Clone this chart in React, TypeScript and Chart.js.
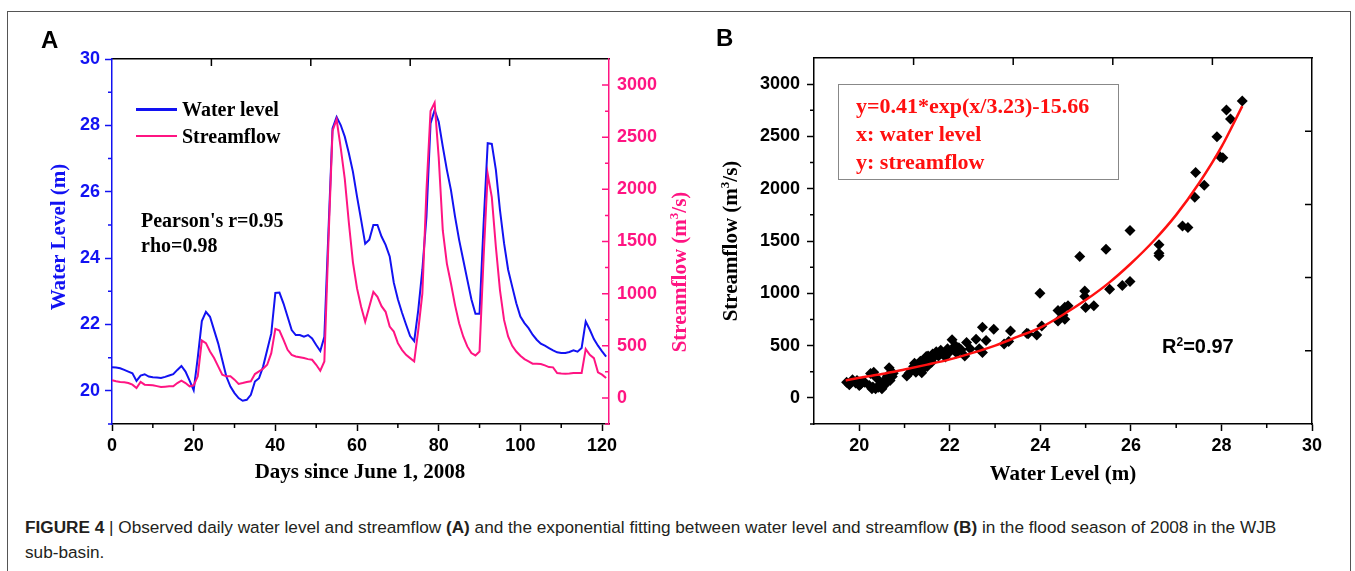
import React, { useEffect, useRef } from "react";
import { Chart, registerables } from "chart.js";

Chart.register(...registerables);

// ---------- Panel A data (daily, day index = position) ----------
const waterLevel = [
  20.71, 20.7, 20.68, 20.63, 20.58, 20.53, 20.3, 20.46, 20.5, 20.43,
  20.41, 20.4, 20.39, 20.42, 20.46, 20.5, 20.63, 20.75, 20.58, 20.31,
  20.02, 21.0, 22.1, 22.38, 22.23, 21.83, 21.43, 20.93, 20.43, 20.13,
  19.93, 19.78, 19.7, 19.73, 19.88, 20.28, 20.38, 20.73, 21.23, 21.73,
  22.95, 22.96, 22.63, 22.23, 21.83, 21.68, 21.68, 21.63, 21.68, 21.58,
  21.38, 21.2, 21.63, 24.8, 27.91, 28.25, 28.01, 27.66, 27.16, 26.6,
  25.85, 25.15, 24.43, 24.55, 25.0, 25.0, 24.65, 24.4, 24.05, 23.26,
  22.76, 22.36, 22.0, 21.65, 21.5, 22.44, 23.65, 25.25, 28.06, 28.46,
  28.11, 27.36, 26.66, 26.05, 25.25, 24.55, 23.95, 23.35, 22.76, 22.32,
  22.32, 25.05, 27.46, 27.44, 26.66, 25.45, 24.45, 23.65, 23.14, 22.64,
  22.24, 22.04, 21.89, 21.69, 21.54, 21.42, 21.36, 21.29, 21.22, 21.16,
  21.14, 21.14, 21.17, 21.22, 21.18, 21.29, 22.09, 21.84, 21.56, 21.36,
  21.19, 21.03,
];
const streamflow = [
  169, 160, 153, 150, 143, 127, 95, 153, 127, 124,
  121, 113, 105, 108, 111, 111, 143, 165, 143, 111,
  121, 207, 550, 525, 445, 382, 302, 223, 207, 207,
  175, 134, 143, 153, 159, 229, 254, 280, 318, 429,
  662, 646, 557, 461, 413, 398, 391, 382, 372, 366,
  318, 261, 350, 1500, 2560, 2670, 2400, 2100, 1680, 1300,
  1050, 874, 731, 874, 1017, 970, 880, 826, 684, 636,
  525, 461, 413, 382, 350, 652, 1002, 1988, 2751, 2830,
  2306, 1606, 1288, 1097, 890, 716, 589, 494, 430, 407,
  445, 1352, 2147, 1925, 1447, 1034, 748, 589, 500, 445,
  404, 372, 350, 328, 328, 325, 312, 296, 293, 239,
  235, 232, 235, 239, 239, 239, 468, 413, 382, 245,
  223, 191,
];
const dayTicks = [0, 20, 40, 60, 80, 100, 120];
const dayMinorTicks = [10, 30, 50, 70, 90, 110];
const levelTicks = [20, 22, 24, 26, 28, 30];
const levelMinorTicks = [19, 21, 23, 25, 27, 29];
const flowTicks = [0, 500, 1000, 1500, 2000, 2500, 3000];
const flowMinorTicks = [-250, 250, 750, 1250, 1750, 2250, 2750];
const mirrorDivisions = [1, 2, 3, 4];

// ---------- Panel B data ----------
const scatterLevel = [
  19.72, 19.78, 19.85, 19.92, 20.0, 20.08, 20.03, 19.95, 19.8, 20.12,
  20.25, 20.32, 20.38, 20.22, 20.28, 20.36, 20.42, 20.47, 20.5, 20.55,
  20.57, 20.62, 20.66, 20.7, 20.6, 20.68, 20.73, 20.45, 20.3, 20.75,
  21.05, 21.1, 21.15, 21.2, 21.22, 21.28, 21.3, 21.35, 21.38, 21.42,
  21.45, 21.5, 21.52, 21.58, 21.62, 21.65, 21.7, 21.75, 21.8, 21.85,
  21.9, 21.95, 22.0, 22.05, 22.08, 22.12, 22.15, 22.2, 22.25, 22.33,
  22.37, 22.45, 22.58, 22.65, 22.72, 22.72, 22.8, 22.97, 23.2, 23.3,
  23.34, 23.7, 23.73, 23.92, 24.03, 23.99, 24.39, 24.54, 24.61, 24.39,
  24.5, 24.54, 24.87, 24.98, 24.98, 25.0, 25.18, 25.45, 25.53, 25.81,
  25.98, 25.98, 26.62, 26.62, 26.62, 27.14, 27.26, 27.41, 27.62, 27.43,
  27.97, 28.03, 27.9, 28.2, 28.11, 28.46, 21.25, 21.4, 21.6, 21.48,
];
const scatterFlow = [
  150, 125, 172, 143, 118, 160, 130, 165, 140, 150,
  232, 245, 190, 118, 88, 86, 102, 134, 88, 118,
  172, 207, 288, 240, 150, 165, 205, 120, 105, 236,
  210, 235, 260, 300, 330, 320, 280, 350, 240, 330,
  370, 300, 400, 360, 420, 390, 440, 400, 455, 425,
  390, 470, 440, 555, 470, 500, 430, 480, 460, 400,
  530, 470, 560, 470, 676, 433, 548, 657, 516, 538,
  640, 618, 612, 602, 688, 1001, 835, 867, 882, 736,
  793, 752, 1351, 1023, 969, 863, 882, 1422, 1039, 1074,
  1112, 1600, 1463, 1383, 1358, 1644, 1628, 1919, 2033, 2154,
  2305, 2297, 2498, 2667, 2753, 2839, 245, 270, 340, 395,
];
const fitLevel = [19.7, 20, 20.5, 21, 21.5, 22, 22.5, 23, 23.5, 24, 24.5, 25, 25.5, 26, 26.5, 27, 27.5, 28, 28.46];
const fitFlow = [166, 192, 228, 272, 318, 368, 430, 500, 585, 672, 795, 935, 1095, 1285, 1500, 1750, 2050, 2400, 2790];
const wlTicks = [20, 22, 24, 26, 28, 30];
const wlMinorTicks = [21, 23, 25, 27, 29];

const BLUE = "#1212F2";
const PINK = "#FF1482";
const SANS = "'Liberation Sans', Arial, sans-serif";
const SERIF = "'Liberation Serif', 'Times New Roman', serif";

const tickFont = { family: SANS, size: 18, weight: "bold" as const };

function setTicks(values: number[]) {
  return (scale: any) => {
    scale.ticks = values.map((v) => ({ value: v }));
  };
}

function mirrorScale(pos: "top" | "right", color: string) {
  return {
    type: "linear" as const,
    position: pos,
    min: 0,
    max: 5,
    display: true,
    ticks: { display: false },
    grid: { display: true, drawOnChartArea: false, drawTicks: false },
    border: { display: true, color, width: 1.5 },
    afterFit: (s: any) => {
      if (pos === "top") s.height = 0;
      else s.width = 0;
    },
  };
}

const ticksPluginA = {
  id: "ticksA",
  afterDraw(chart: any) {
    const { ctx, chartArea: ca, scales } = chart;
    ctx.save();
    ctx.lineWidth = 1.5;
    ctx.strokeStyle = "#000";
    ctx.beginPath();
    for (const v of dayMinorTicks) {
      const x = scales.x.getPixelForValue(v);
      ctx.moveTo(x, ca.bottom);
      ctx.lineTo(x, ca.bottom + 4);
    }
    for (const v of mirrorDivisions) {
      const x = scales.xTop.getPixelForValue(v);
      ctx.moveTo(x, ca.top);
      ctx.lineTo(x, ca.top + 7);
    }
    ctx.stroke();
    ctx.strokeStyle = BLUE;
    ctx.beginPath();
    for (const v of levelMinorTicks) {
      const y = scales.y.getPixelForValue(v);
      ctx.moveTo(ca.left, y);
      ctx.lineTo(ca.left - 4, y);
    }
    ctx.stroke();
    ctx.strokeStyle = PINK;
    ctx.beginPath();
    for (const v of flowTicks) {
      const y = scales.y1.getPixelForValue(v);
      ctx.moveTo(ca.right, y);
      ctx.lineTo(ca.right - 7, y);
    }
    for (const v of flowMinorTicks) {
      const y = scales.y1.getPixelForValue(v);
      ctx.moveTo(ca.right, y);
      ctx.lineTo(ca.right - 4, y);
    }
    ctx.stroke();
    ctx.restore();
  },
};

const ticksPluginB = {
  id: "ticksB",
  afterDraw(chart: any) {
    const { ctx, chartArea: ca, scales } = chart;
    ctx.save();
    ctx.lineWidth = 1.5;
    ctx.strokeStyle = "#000";
    ctx.beginPath();
    for (const v of wlMinorTicks) {
      const x = scales.x.getPixelForValue(v);
      ctx.moveTo(x, ca.bottom);
      ctx.lineTo(x, ca.bottom + 4);
    }
    for (const v of flowMinorTicks) {
      const y = scales.y.getPixelForValue(v);
      ctx.moveTo(ca.left, y);
      ctx.lineTo(ca.left - 4, y);
    }
    for (const v of mirrorDivisions) {
      const x = scales.xTop.getPixelForValue(v);
      ctx.moveTo(x, ca.top);
      ctx.lineTo(x, ca.top + 7);
      const y = scales.yR.getPixelForValue(v);
      ctx.moveTo(ca.right, y);
      ctx.lineTo(ca.right - 7, y);
    }
    ctx.stroke();
    ctx.restore();
  },
};

type TProps = { x: number; y: number; size: number; color?: string; family?: string; bold?: boolean; children: React.ReactNode; rotate?: boolean; center?: boolean };
function T({ x, y, size, color = "#000", family = SERIF, bold = true, children, rotate, center }: TProps) {
  const transform = rotate
    ? "translate(-50%, -50%) rotate(-90deg)"
    : center
    ? "translate(-50%, -50%)"
    : "translateY(-50%)";
  return (
    <div
      style={{
        position: "absolute",
        left: x,
        top: y,
        transform,
        fontFamily: family,
        fontSize: size,
        fontWeight: bold ? "bold" : "normal",
        color,
        lineHeight: 1,
        whiteSpace: "nowrap",
      }}
    >
      {children}
    </div>
  );
}

export default function App() {
  const refA = useRef<HTMLCanvasElement>(null);
  const refB = useRef<HTMLCanvasElement>(null);

  useEffect(() => {
    const chartA = new Chart(refA.current!, {
      type: "line",
      data: {
        datasets: [
          {
            label: "Streamflow",
            data: streamflow.map((v, i) => ({ x: i, y: v })),
            yAxisID: "y1",
            xAxisID: "x",
            borderColor: PINK,
            borderWidth: 2,
            pointRadius: 0,
            tension: 0,
          },
          {
            label: "Water level",
            data: waterLevel.map((v, i) => ({ x: i, y: v })),
            yAxisID: "y",
            xAxisID: "x",
            borderColor: BLUE,
            borderWidth: 2,
            pointRadius: 0,
            tension: 0,
          },
        ],
      },
      options: {
        animation: false,
        responsive: false,
        devicePixelRatio: 1,
        layout: { padding: { top: 59, left: 0, right: 0, bottom: 0 } },
        plugins: { legend: { display: false }, tooltip: { enabled: false } },
        scales: {
          x: {
            type: "linear",
            position: "bottom",
            min: 0,
            max: 121.7,
            afterBuildTicks: setTicks(dayTicks),
            ticks: { color: "#000", font: tickFont, padding: 4, maxRotation: 0, callback: (v: any) => String(v) },
            grid: { display: true, drawOnChartArea: false, drawTicks: true, tickLength: 7, color: "#000", tickWidth: 1.5 },
            border: { display: true, color: "#000", width: 1.5 },
            afterFit: (s: any) => { s.height = 76; },
          },
          xTop: mirrorScale("top", "#000"),
          y: {
            type: "linear",
            position: "left",
            min: 19,
            max: 30,
            afterBuildTicks: setTicks(levelTicks),
            ticks: { color: BLUE, font: tickFont, padding: 5, callback: (v: any) => String(v) },
            grid: { display: true, drawOnChartArea: false, drawTicks: true, tickLength: 7, color: BLUE, tickWidth: 1.5 },
            border: { display: true, color: BLUE, width: 1.5 },
            afterFit: (s: any) => { s.width = 112; },
          },
          y1: {
            type: "linear",
            position: "right",
            min: -250,
            max: 3250,
            afterBuildTicks: setTicks(flowTicks),
            ticks: { color: PINK, font: tickFont, padding: 8, callback: (v: any) => String(v) },
            grid: { display: true, drawOnChartArea: false, drawTicks: false },
            border: { display: true, color: PINK, width: 1.5 },
            afterFit: (s: any) => { s.width = 91; },
          },
        },
      },
      plugins: [ticksPluginA],
    } as any);

    const chartB = new Chart(refB.current!, {
      type: "scatter",
      data: {
        datasets: [
          {
            type: "line",
            label: "Fit",
            data: fitLevel.map((x, i) => ({ x, y: fitFlow[i] })),
            borderColor: "#FF1010",
            borderWidth: 2.5,
            pointRadius: 0,
            cubicInterpolationMode: "monotone",
          },
          {
            type: "scatter",
            label: "Observed",
            data: scatterLevel.map((x, i) => ({ x, y: scatterFlow[i] })),
            pointStyle: "rectRot",
            pointRadius: 5.5,
            backgroundColor: "#000",
            borderColor: "#000",
            borderWidth: 0,
          },
        ],
      },
      options: {
        animation: false,
        responsive: false,
        devicePixelRatio: 1,
        layout: { padding: { top: 58, left: 0, right: 43, bottom: 0 } },
        plugins: { legend: { display: false }, tooltip: { enabled: false } },
        scales: {
          x: {
            type: "linear",
            position: "bottom",
            min: 19,
            max: 30,
            afterBuildTicks: setTicks(wlTicks),
            ticks: { color: "#000", font: tickFont, padding: 4, maxRotation: 0, callback: (v: any) => String(v) },
            grid: { display: true, drawOnChartArea: false, drawTicks: true, tickLength: 7, color: "#000", tickWidth: 1.5 },
            border: { display: true, color: "#000", width: 1.5 },
            afterFit: (s: any) => { s.height = 76; },
          },
          xTop: mirrorScale("top", "#000"),
          y: {
            type: "linear",
            position: "left",
            min: -250,
            max: 3250,
            afterBuildTicks: setTicks(flowTicks),
            ticks: { color: "#000", font: tickFont, padding: 7, callback: (v: any) => String(v) },
            grid: { display: true, drawOnChartArea: false, drawTicks: true, tickLength: 7, color: "#000", tickWidth: 1.5 },
            border: { display: true, color: "#000", width: 1.5 },
            afterFit: (s: any) => { s.width = 114; },
          },
          yR: mirrorScale("right", "#000"),
        },
      },
      plugins: [ticksPluginB],
    } as any);

    return () => {
      chartA.destroy();
      chartB.destroy();
    };
  }, []);

  return (
    <div style={{ position: "absolute", left: 0, top: 0, width: 1355, height: 571, overflow: "hidden", background: "#fff" }}>
      <div style={{ position: "absolute", left: 7, top: 11, width: 1342, height: 600, border: "1px solid #555" }} />
      <canvas ref={refA} width={700} height={500} style={{ position: "absolute", left: 0, top: 0 }} />
      <canvas ref={refB} width={655} height={500} style={{ position: "absolute", left: 700, top: 0 }} />

      {/* Panel labels */}
      <T x={41} y={40} size={24} family={SANS}>A</T>
      <T x={716} y={38} size={24} family={SANS}>B</T>

      {/* Panel A legend */}
      <div style={{ position: "absolute", left: 136, top: 108, width: 41, height: 2.5, background: BLUE }} />
      <div style={{ position: "absolute", left: 136, top: 134.5, width: 41, height: 2.5, background: PINK }} />
      <T x={182} y={109} size={20}>Water level</T>
      <T x={182} y={136} size={20}>Streamflow</T>
      <T x={141} y={220} size={20}>Pearson's r=0.95</T>
      <T x={141} y={245} size={20}>rho=0.98</T>

      {/* Panel A axis titles */}
      <T x={58} y={237} size={21} color={BLUE} rotate>Water Level (m)</T>
      <T x={678} y={272} size={21} color={PINK} rotate>
        Streamflow (m<sup style={{ fontSize: 13 }}>3</sup>/s)
      </T>
      <T x={360} y={471} size={21} center>Days since June 1, 2008</T>

      {/* Panel B annotations */}
      <div style={{ position: "absolute", left: 838, top: 84, width: 281, height: 96, border: "1px solid #888", boxSizing: "border-box" }} />
      <T x={856} y={106} size={22} color="#FF1010">y=0.41*exp(x/3.23)-15.66</T>
      <T x={856} y={134} size={22} color="#FF1010">x: water level</T>
      <T x={856} y={162} size={22} color="#FF1010">y: streamflow</T>
      <T x={1162} y={346} size={20} family={SANS}>
        R<sup style={{ fontSize: 12 }}>2</sup>=0.97
      </T>
      <T x={729} y={241} size={21} rotate>
        Streamflow (m<sup style={{ fontSize: 13 }}>3</sup>/s)
      </T>
      <T x={1063} y={473} size={21} center>Water Level (m)</T>

      {/* Caption */}
      <div
        style={{
          position: "absolute",
          left: 25,
          top: 515,
          fontFamily: SANS,
          fontSize: 17.2,
          lineHeight: "25px",
          color: "#231f20",
          whiteSpace: "nowrap",
        }}
      >
        <b>FIGURE 4</b> | Observed daily water level and streamflow <b>(A)</b> and the exponential fitting between water level and streamflow <b>(B)</b> in the flood season of 2008 in the WJB
        <br />
        sub-basin.
      </div>
    </div>
  );
}
